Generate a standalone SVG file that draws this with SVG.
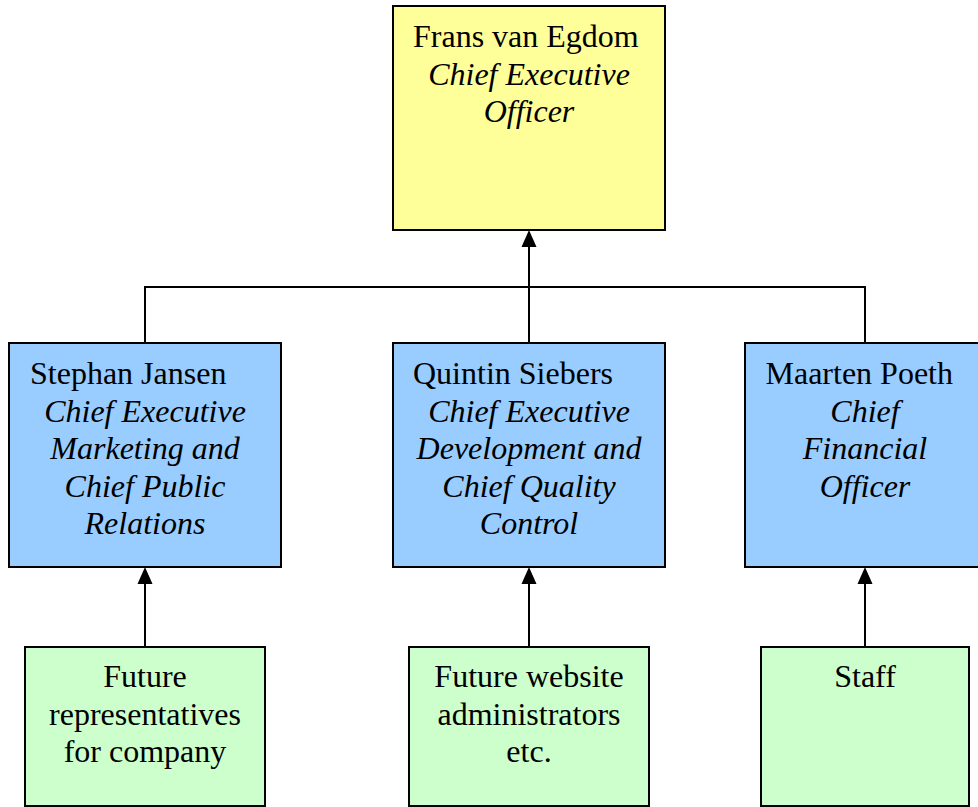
<svg xmlns="http://www.w3.org/2000/svg" width="978" height="807" viewBox="0 0 978 807">
<defs>
<style>
.box{stroke:#000;stroke-width:2}
.ceo{fill:#FFFF99}
.mgr{fill:#99CCFF}
.sub{fill:#CCFFCC}
text{font-family:"Liberation Serif","Times New Roman",serif;font-size:32px;fill:#000}
.it{font-style:italic;text-anchor:middle}
.c{text-anchor:middle}
.conn{fill:none;stroke:#000;stroke-width:2}
.head{fill:#000}
</style>
</defs>
<rect width="978" height="807" fill="#fff"/>
<g id="connectors">
<path class="conn" d="M145,343 V287 H865 V343"/>
<line class="conn" x1="529" y1="343" x2="529" y2="246"/>
<polygon class="head" points="529,230 521.5,247 536.5,247"/>
<line class="conn" x1="145" y1="647" x2="145" y2="583"/>
<polygon class="head" points="145,567 137.5,584 152.5,584"/>
<line class="conn" x1="529" y1="647" x2="529" y2="583"/>
<polygon class="head" points="529,567 521.5,584 536.5,584"/>
<line class="conn" x1="865" y1="647" x2="865" y2="583"/>
<polygon class="head" points="865,567 857.5,584 872.5,584"/>
</g>
<g id="ceo">
<rect class="box ceo" x="393" y="6" width="272" height="224"/>
<text x="413" y="47">Frans van Egdom</text>
<text class="it" x="529" y="84.5">Chief Executive</text>
<text class="it" x="529" y="122">Officer</text>
</g>
<g id="jansen">
<rect class="box mgr" x="9" y="343" width="272" height="224"/>
<text x="30" y="384">Stephan Jansen</text>
<text class="it" x="145" y="421.5">Chief Executive</text>
<text class="it" x="145" y="459">Marketing and</text>
<text class="it" x="145" y="496.5">Chief Public</text>
<text class="it" x="145" y="534">Relations</text>
</g>
<g id="siebers">
<rect class="box mgr" x="393" y="343" width="272" height="224"/>
<text x="413" y="384">Quintin Siebers</text>
<text class="it" x="529" y="421.5">Chief Executive</text>
<text class="it" x="529" y="459">Development and</text>
<text class="it" x="529" y="496.5">Chief Quality</text>
<text class="it" x="529" y="534">Control</text>
</g>
<g id="poeth">
<rect class="box mgr" x="745" y="343" width="245" height="224"/>
<text x="765.5" y="384">Maarten Poeth</text>
<text class="it" x="865" y="421.5">Chief</text>
<text class="it" x="865" y="459">Financial</text>
<text class="it" x="865" y="496.5">Officer</text>
</g>
<g id="representatives">
<rect class="box sub" x="25" y="647" width="240" height="159"/>
<text class="c" x="145" y="687">Future</text>
<text class="c" x="145" y="724.5">representatives</text>
<text class="c" x="145" y="762">for company</text>
</g>
<g id="webadmins">
<rect class="box sub" x="409" y="647" width="240" height="159"/>
<text class="c" x="529" y="687">Future website</text>
<text class="c" x="529" y="724.5">administrators</text>
<text class="c" x="529" y="762">etc.</text>
</g>
<g id="staff">
<rect class="box sub" x="761" y="647" width="208" height="159"/>
<text class="c" x="865" y="687">Staff</text>
</g>
</svg>
